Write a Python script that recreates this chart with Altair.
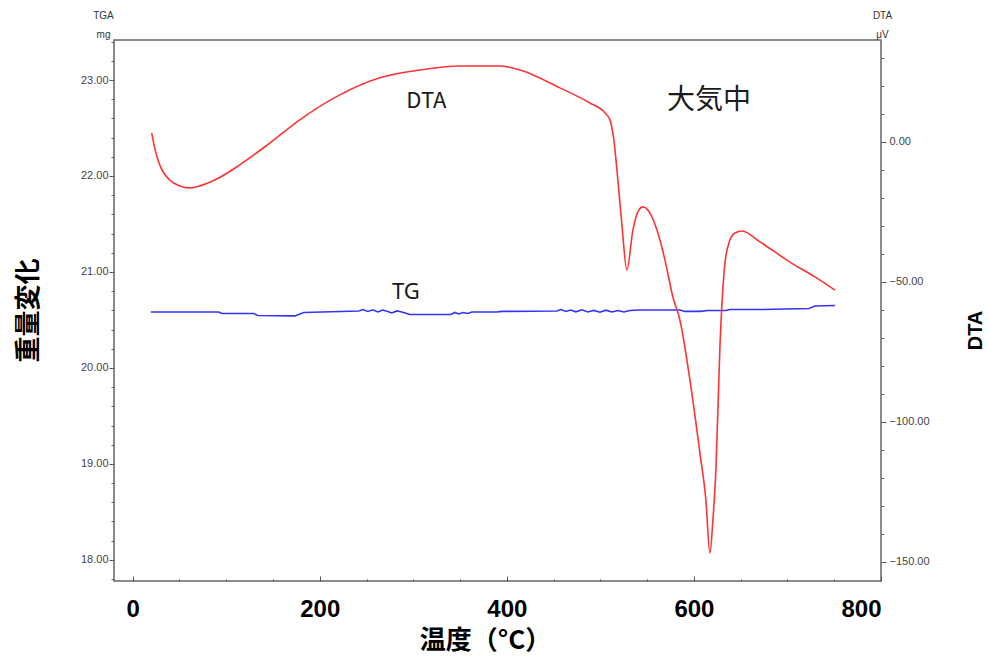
import altair as alt
import pandas as pd

# ---------------- data ----------------
dta_temp = [20.3, 23.5, 28.9, 39.6, 50.3, 61.0, 71.7, 87.7, 114.4, 146.5, 178.6, 221.4,
            264.2, 307.0, 349.7, 392.5, 413.9, 456.7, 488.8, 504.8, 510.2, 514.4, 518.7,
            523.0, 528.3, 534.8, 540.1, 545.5, 553.0, 560.4, 569.0, 577.5, 585.0, 595.7,
            606.4, 612.8, 617.1, 620.3, 623.5, 627.8, 633.2, 638.5, 643.9, 651.3, 670.6,
            702.7, 729.4, 750.8]
dta_val = [3.2, -2.1, -8.2, -13.6, -15.7, -16.4, -15.7, -13.6, -8.2, -0.4, 7.9, 16.8,
           22.9, 25.7, 27.1, 27.1, 25.7, 19.3, 13.9, 10.4, 7.9, 0.7, -13.6,
           -29.6, -45.7, -31.4, -25.0, -23.2, -25.4, -31.4, -42.1, -55.4, -63.6, -85.0,
           -111.1, -127.9, -146.8, -135.0, -117.1, -73.2, -43.2, -35.0, -32.5, -31.8, -35.7,
           -42.9, -48.2, -52.9]

tg_temp = [19.3, 50.3, 92.0, 95.2, 129.4, 133.7, 173.3, 182.9, 241.7, 246.0, 251.3, 256.7,
           262.0, 267.4, 272.7, 277.0, 282.4, 287.7, 296.3, 340.1, 344.4, 348.7, 352.9,
           358.3, 362.6, 389.3, 394.7, 453.5, 457.8, 463.1, 468.4, 473.8, 480.2, 486.6,
           493.0, 499.5, 505.9, 512.3, 518.7, 525.1, 531.6, 541.2, 585.0, 590.4, 606.4,
           614.9, 634.2, 638.5, 673.8, 723.0, 729.4, 750.8]
tg_val = [20.583, 20.583, 20.583, 20.568, 20.568, 20.547, 20.542, 20.578, 20.594, 20.609,
          20.589, 20.606, 20.583, 20.604, 20.589, 20.573, 20.594, 20.583, 20.557, 20.557,
          20.578, 20.563, 20.578, 20.568, 20.583, 20.583, 20.589, 20.594, 20.609, 20.589,
          20.604, 20.585, 20.606, 20.583, 20.599, 20.581, 20.602, 20.583, 20.599, 20.583,
          20.599, 20.604, 20.604, 20.589, 20.589, 20.599, 20.599, 20.609, 20.609, 20.620,
          20.646, 20.651]

x_label_values = [0, 200, 400, 600, 800]
x_major_ticks = [0, 200, 400, 600, 800]
x_minor_ticks = [0, 50, 100, 150, 200, 250, 300, 350, 400, 450, 500, 550, 600, 650, 700, 750, 800]
tg_major = [18, 19, 20, 21, 22, 23]
tg_minor = [17.8, 18.0, 18.2, 18.4, 18.6, 18.8, 19.0, 19.2, 19.4, 19.6, 19.8, 20.0, 20.2,
            20.4, 20.6, 20.8, 21.0, 21.2, 21.4, 21.6, 21.8, 22.0, 22.2, 22.4, 22.6, 22.8,
            23.0, 23.2, 23.4]
dta_major = [0, -50, -100, -150]
dta_minor = [-150, -140, -130, -120, -110, -100, -90, -80, -70, -60, -50, -40, -30, -20,
             -10, 0, 10, 20, 30]

ann_text = ["DTA", "大気中"]
ann_temp = [314, 616]
ann_dta = [14.6, 14.6]
ann_size = [22, 28]
tg_ann_text = ["TG"]
tg_ann_temp = [292]
tg_ann_val = [20.79]

X_DOMAIN = [-20, 800]
TG_DOMAIN = [17.78, 23.417]
DTA_DOMAIN = [-156.8, 36.4]

W, H = 767, 541

dta_df = pd.DataFrame({"temp": dta_temp, "dta": dta_val})
tg_df = pd.DataFrame({"temp": tg_temp, "tg": tg_val})
ann_df = pd.DataFrame({"temp": ann_temp, "dta": ann_dta, "label": ann_text, "size": ann_size})
tg_ann_df = pd.DataFrame({"temp": tg_ann_temp, "tg": tg_ann_val, "label": tg_ann_text})

xs = alt.Scale(domain=X_DOMAIN, nice=False, zero=False)
tgs = alt.Scale(domain=TG_DOMAIN, nice=False, zero=False)
dtas = alt.Scale(domain=DTA_DOMAIN, nice=False, zero=False)

LABEL_FONT = "Liberation Sans Narrow, Liberation Sans, Arial"
CJK = "Noto Sans CJK JP"

# Layer 1: TG line, big x labels + title, left major axis
tg_line = alt.Chart(tg_df).mark_line(color="#3333ff", strokeWidth=1.6).encode(
    x=alt.X("temp:Q", scale=xs, axis=alt.Axis(
        orient="bottom", values=x_label_values, ticks=False, tickSize=0, domain=False,
        grid=False, labelFont="Liberation Sans", labelFontSize=24, labelFontWeight="bold",
        labelColor="#000", labelPadding=16, labelFlush=True,
        title="温度（°C）", titleFont=CJK, titleFontSize=26, titleFontWeight="bold",
        titleColor="#000", titleX=371, titleY=59, titleAlign="center",
        titleBaseline="middle")),
    y=alt.Y("tg:Q", scale=tgs, axis=alt.Axis(
        orient="left", values=tg_major, format=".2f", tickSize=5, tickColor="#555",
        domain=False, grid=False, labelFont=LABEL_FONT, labelFontSize=11,
        labelColor="#444", labelPadding=1,
        title="重量変化", titleFont=CJK, titleFontSize=26, titleFontWeight="bold",
        titleColor="#000", titleAngle=270, titleX=-86, titleY=270,
        titleAlign="center", titleBaseline="middle")),
)

# Layer 2: invisible TG copy carrying minor ticks and small header
tg_minor_layer = alt.Chart(tg_df).mark_line(strokeOpacity=0).encode(
    x=alt.X("temp:Q", scale=xs, axis=alt.Axis(
        orient="top", offset=-H, values=x_major_ticks, tickSize=5, tickColor="#555",
        labels=False, domain=False, grid=False, title=None)),
    y=alt.Y("tg:Q", scale=tgs, axis=alt.Axis(
        orient="left", values=tg_minor, tickSize=3, tickColor="#666", labels=False,
        domain=False, grid=False, title=["TGA", "mg"], titleFont="Liberation Sans",
        titleFontSize=10, titleFontWeight="normal", titleColor="#333", titleAngle=0,
        titleX=-11, titleY=-22, titleAlign="center", titleBaseline="alphabetic",
        titleLineHeight=19)),
)

# Layer 3: DTA line, right major axis
dta_line = alt.Chart(dta_df).mark_line(color="#ff3333", strokeWidth=1.6,
                                        interpolate="monotone").encode(
    x=alt.X("temp:Q", scale=xs, axis=alt.Axis(
        orient="top", offset=-H, values=x_minor_ticks, tickSize=2, tickColor="#555",
        labels=False, domain=False, grid=False, title=None)),
    y=alt.Y("dta:Q", scale=dtas, axis=alt.Axis(
        orient="right", values=dta_major, format=".2f", tickSize=5, tickColor="#555",
        domain=False, grid=False, labelFont=LABEL_FONT, labelFontSize=11,
        labelColor="#444", labelPadding=3,
        title="DTA", titleFont="Liberation Sans", titleFontSize=20,
        titleFontWeight="bold", titleColor="#000", titleAngle=270, titleX=94,
        titleY=290, titleAlign="center", titleBaseline="middle")),
)

# Layer 4: invisible DTA copy carrying minor ticks and small header
dta_minor_layer = alt.Chart(dta_df).mark_line(strokeOpacity=0).encode(
    x=alt.X("temp:Q", scale=xs, axis=None),
    y=alt.Y("dta:Q", scale=dtas, axis=alt.Axis(
        orient="right", values=dta_minor, tickSize=3, tickColor="#666", labels=False,
        domain=False, grid=False, title=["DTA", "μV"], titleFont="Liberation Sans",
        titleFontSize=10, titleFontWeight="normal", titleColor="#333", titleAngle=0,
        titleX=1, titleY=-22, titleAlign="center", titleBaseline="alphabetic",
        titleLineHeight=19)),
)

# Layer 5: annotations in DTA coordinates
ann = alt.Chart(ann_df).mark_text(font=CJK, color="#1a1a1a", baseline="middle",
                                  align="center").encode(
    x=alt.X("temp:Q", scale=xs, axis=None),
    y=alt.Y("dta:Q", scale=dtas, axis=None),
    text="label:N",
    size=alt.Size("size:Q", scale=None, legend=None),
)

# Layer 6: TG annotation
tg_ann = alt.Chart(tg_ann_df).mark_text(font="Noto Sans", fontSize=22, color="#1a1a1a",
                                        baseline="middle", align="center").encode(
    x=alt.X("temp:Q", scale=xs, axis=None),
    y=alt.Y("tg:Q", scale=tgs, axis=None),
    text="label:N",
)

chart = alt.layer(tg_line, tg_minor_layer, dta_line, dta_minor_layer, ann, tg_ann).resolve_scale(
    x="independent", y="independent"
).properties(
    width=W, height=H,
    autosize=alt.AutoSizeParams(type="none"),
    padding={"left": 114, "top": 40, "right": 108, "bottom": 78},
    background="white",
).configure_view(stroke="#666", strokeWidth=1.5)

chart.save("out.html", embed_options={"renderer": "svg", "actions": False})
